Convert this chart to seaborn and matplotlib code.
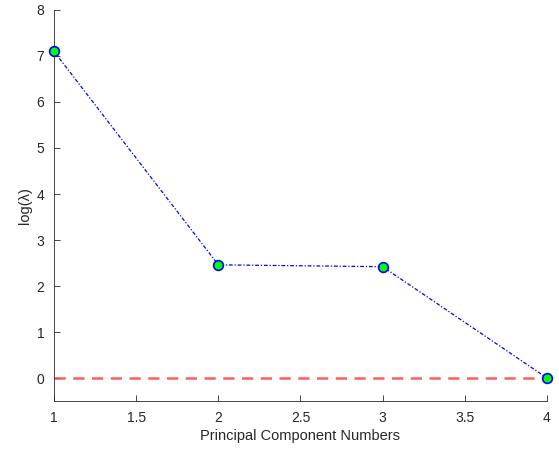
import numpy as np
import pandas as pd
import matplotlib
matplotlib.use('Agg')
import matplotlib.pyplot as plt
import seaborn as sns

# 主成分编号和对应的 log(特征值)
components = [1, 2, 3, 4]
log_eigs = [7.10, 2.46, 2.42, 0.0]
ref_level = [0.0, 0.0]
ref_x = [1, 4]
x_ticks = [1, 1.5, 2, 2.5, 3, 3.5, 4]
y_ticks = [0, 1, 2, 3, 4, 5, 6, 7, 8]

sns.set_style('ticks')
plt.rcParams['font.family'] = ['Liberation Sans', 'DejaVu Sans']

df = pd.DataFrame({'pc': components, 'loglam': log_eigs})

fig = plt.figure(figsize=(5.59, 4.54), dpi=100)
ax = fig.add_axes([0.0966, 0.1167, 0.8819, 0.8613])

# 参考线 y=0
ax.plot(ref_x, ref_level, color='#ff4040', alpha=0.85, linestyle=(0, (4.5, 3)), linewidth=1.8, zorder=2)

sns.lineplot(data=df, x='pc', y='loglam', ax=ax, color='blue', linestyle=(0, (3, 1.5, 1, 1.5)), linewidth=0.9,
             marker='o', markersize=7, markerfacecolor='#00ff00', markeredgecolor='blue',
             markeredgewidth=1.2, zorder=3, clip_on=False)

ax.set_xlim(1, 4)
ax.set_ylim(-0.5, 8)
ax.set_xticks(x_ticks)
ax.set_xticklabels(['1', '1.5', '2', '2.5', '3', '3.5', '4'])
ax.set_yticks(y_ticks)
ax.set_xlabel('Principal Component Numbers', fontsize=10.5, color='#262626', labelpad=3)
ax.set_ylabel('log(λ)', fontsize=10.5, color='#262626', labelpad=3)
ax.tick_params(direction='in', length=4, width=0.6, colors='#262626', labelsize=10, pad=7)
sns.despine(ax=ax)
for s in ['left', 'bottom']:
    ax.spines[s].set_color('#262626')
    ax.spines[s].set_linewidth(0.6)

fig.savefig('out.png', dpi=100)
